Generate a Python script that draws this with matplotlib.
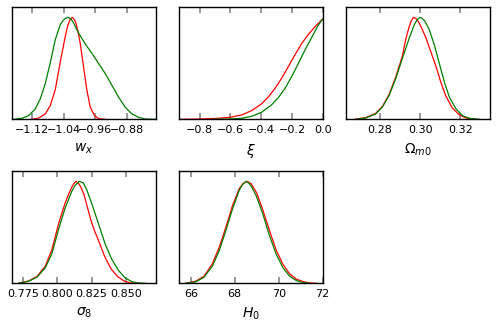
"""
1D marginalised posteriors for the two runs (red vs green), GetDist-style grid.
Curves are normalised to peak = 1; values read off the original figure.
"""
import matplotlib
matplotlib.use("Agg")
import matplotlib.pyplot as plt

# ---- w_x ----
wx_green_x = [-1.1678, -1.1466, -1.1296, -1.1127, -1.1000, -1.0873, -1.0746, -1.0619,
              -1.0492, -1.0420, -1.0365, -1.0289, -1.0220, -1.0153, -1.0026, -0.9857,
              -0.9687, -0.9518, -0.9348, -0.9179, -0.9010, -0.8840, -0.8671, -0.8501,
              -0.8332, -0.8078]
wx_green_y = [0.0, 0.010, 0.036, 0.102, 0.201, 0.350, 0.555, 0.780,
              0.928, 0.970, 0.990, 1.000, 0.985, 0.945, 0.846, 0.740,
              0.647, 0.548, 0.449, 0.334, 0.218, 0.119, 0.053, 0.020,
              0.003, 0.0]
wx_red_x = [-1.1212, -1.1042, -1.0873, -1.0746, -1.0619, -1.0492, -1.0365, -1.0300,
            -1.0240, -1.0187, -1.0135, -1.0094, -1.0040, -0.9984, -0.9899, -0.9814,
            -0.9729, -0.9619, -0.9518, -0.9348]
wx_red_y = [0.0, 0.013, 0.053, 0.135, 0.290, 0.560, 0.813, 0.920,
            0.980, 1.000, 0.980, 0.945, 0.860, 0.746, 0.515, 0.284,
            0.119, 0.036, 0.007, 0.0]

# ---- xi ----
xi_red_x = [-0.935, -0.806, -0.677, -0.601, -0.526, -0.461, -0.397, -0.354,
            -0.311, -0.268, -0.224, -0.181, -0.138, -0.095, -0.052, 0.0]
xi_red_y = [0.0, 0.003, 0.010, 0.020, 0.043, 0.086, 0.152, 0.218,
            0.301, 0.400, 0.515, 0.631, 0.740, 0.829, 0.905, 0.985]
xi_green_x = [-0.720, -0.601, -0.526, -0.461, -0.397, -0.332, -0.289, -0.246,
              -0.203, -0.160, -0.117, -0.074, -0.031, 0.0]
xi_green_y = [0.0, 0.003, 0.010, 0.030, 0.069, 0.142, 0.211, 0.301,
              0.416, 0.542, 0.674, 0.796, 0.918, 0.985]

# ---- Omega_m0 ----
om_green_x = [0.2678, 0.2728, 0.2778, 0.2811, 0.2845, 0.2878, 0.2911, 0.2945, 0.2970, 0.2984,
              0.2998, 0.3009, 0.3020, 0.3032, 0.3045, 0.3070, 0.3095, 0.3120, 0.3145, 0.3178,
              0.3211, 0.3245, 0.3295]
om_green_y = [0.0, 0.013, 0.053, 0.119, 0.235, 0.400, 0.598, 0.796, 0.928, 0.975,
              1.000, 0.990, 0.971, 0.930, 0.879, 0.730, 0.548, 0.366, 0.218, 0.102,
              0.036, 0.010, 0.0]
om_red_x = [0.2678, 0.2728, 0.2778, 0.2811, 0.2845, 0.2878, 0.2911, 0.2928, 0.2945, 0.2955,
            0.2966, 0.2978, 0.2992, 0.3008, 0.3028, 0.3053, 0.3078, 0.3103, 0.3128, 0.3161,
            0.3195, 0.3228, 0.3278]
om_red_y = [0.003, 0.016, 0.059, 0.125, 0.244, 0.416, 0.621, 0.790, 0.910, 0.965,
            1.000, 0.990, 0.955, 0.890, 0.800, 0.660, 0.520, 0.360, 0.225, 0.108,
            0.044, 0.013, 0.0]

# ---- sigma_8 ----
s8_green_x = [0.7719, 0.7791, 0.7852, 0.7913, 0.7961, 0.8010, 0.8058, 0.8107, 0.8130, 0.8160,
              0.8190, 0.8216, 0.8252, 0.8301, 0.8350, 0.8398, 0.8447, 0.8495, 0.8544, 0.8592,
              0.8641]
s8_green_y = [0.0, 0.020, 0.059, 0.152, 0.290, 0.530, 0.740, 0.905, 0.960, 1.000,
              0.985, 0.915, 0.780, 0.581, 0.383, 0.234, 0.125, 0.053, 0.016, 0.003,
              0.0]
s8_red_x = [0.7719, 0.7791, 0.7852, 0.7913, 0.7961, 0.8010, 0.8058, 0.8085, 0.8107, 0.8122,
            0.8136, 0.8152, 0.8170, 0.8195, 0.8225, 0.8245, 0.8270, 0.8295, 0.8345, 0.8393,
            0.8440, 0.8490, 0.8540, 0.8590]
s8_red_y = [0.0, 0.023, 0.066, 0.168, 0.330, 0.585, 0.790, 0.880, 0.945, 0.980,
            1.000, 0.985, 0.950, 0.870, 0.720, 0.620, 0.520, 0.440, 0.265, 0.140,
            0.066, 0.020, 0.003, 0.0]

# ---- H_0 ----
h0_green_x = [65.755, 66.214, 66.597, 66.979, 67.285, 67.591, 67.897, 68.203, 68.356, 68.509,
              68.620, 68.739, 68.968, 69.274, 69.580, 69.886, 70.192, 70.498, 70.804, 71.110,
              71.416]
h0_green_y = [0.0, 0.013, 0.059, 0.168, 0.317, 0.515, 0.730, 0.912, 0.970, 1.000,
              0.985, 0.955, 0.862, 0.680, 0.465, 0.284, 0.152, 0.069, 0.026, 0.007,
              0.0]
h0_red_x = [65.755, 66.214, 66.597, 66.979, 67.285, 67.591, 67.897, 68.203, 68.380, 68.555,
            68.739, 68.999, 69.274, 69.580, 69.886, 70.192, 70.498, 70.804, 71.110, 71.416,
            71.722]
h0_red_y = [0.0, 0.020, 0.069, 0.191, 0.350, 0.548, 0.763, 0.929, 0.980, 1.000,
            0.978, 0.885, 0.720, 0.515, 0.323, 0.185, 0.092, 0.040, 0.016, 0.003,
            0.0]

labels = [r"$w_x$", r"$\xi$", r"$\Omega_{m0}$", r"$\sigma_8$", r"$H_0$"]
xlims = [(-1.172, -0.806), (-0.935, 0.0), (0.2628, 0.3345), (0.767, 0.8719), (65.45, 72.0)]
xticks = [[-1.12, -1.04, -0.96, -0.88],
          [-0.8, -0.6, -0.4, -0.2, 0.0],
          [0.28, 0.30, 0.32],
          [0.775, 0.800, 0.825, 0.850],
          [66, 68, 70, 72]]
ticklabels = [["\u22121.12", "\u22121.04", "\u22120.96", "\u22120.88"],
              ["\u22120.8", "\u22120.6", "\u22120.4", "\u22120.2", "0.0"],
              ["0.28", "0.30", "0.32"],
              ["0.775", "0.800", "0.825", "0.850"],
              ["66", "68", "70", "72"]]
curves = [((wx_red_x, wx_red_y), (wx_green_x, wx_green_y)),
          ((xi_red_x, xi_red_y), (xi_green_x, xi_green_y)),
          ((om_red_x, om_red_y), (om_green_x, om_green_y)),
          ((s8_red_x, s8_red_y), (s8_green_x, s8_green_y)),
          ((h0_red_x, h0_red_y), (h0_green_x, h0_green_y))]

fig, axes = plt.subplots(2, 3, figsize=(4.98, 3.26), dpi=100)
fig.subplots_adjust(left=0.024, right=0.983, bottom=0.131, top=0.978,
                    wspace=0.159, hspace=0.462)
axes = axes.ravel()

for i, ax in enumerate(axes[:5]):
    (rx, ry), (gx, gy) = curves[i]
    ax.plot(rx, ry, color="#ff0000", lw=0.9)
    ax.plot(gx, gy, color="#008000", lw=0.9)
    ax.set_xlim(*xlims[i])
    ax.set_ylim(0, 1.1)
    ax.set_yticks([])
    ax.set_xticks(xticks[i])
    ax.set_xticklabels(ticklabels[i])
    ax.tick_params(axis="x", direction="in", top=True, length=4, width=1.2,
                   color="#888888", labelsize=8, pad=4)
    ax.set_xlabel(labels[i], fontsize=10, labelpad=5)
    for sp in ax.spines.values():
        sp.set_linewidth(1.0)

axes[5].axis("off")

fig.savefig("out.png", dpi=100)
